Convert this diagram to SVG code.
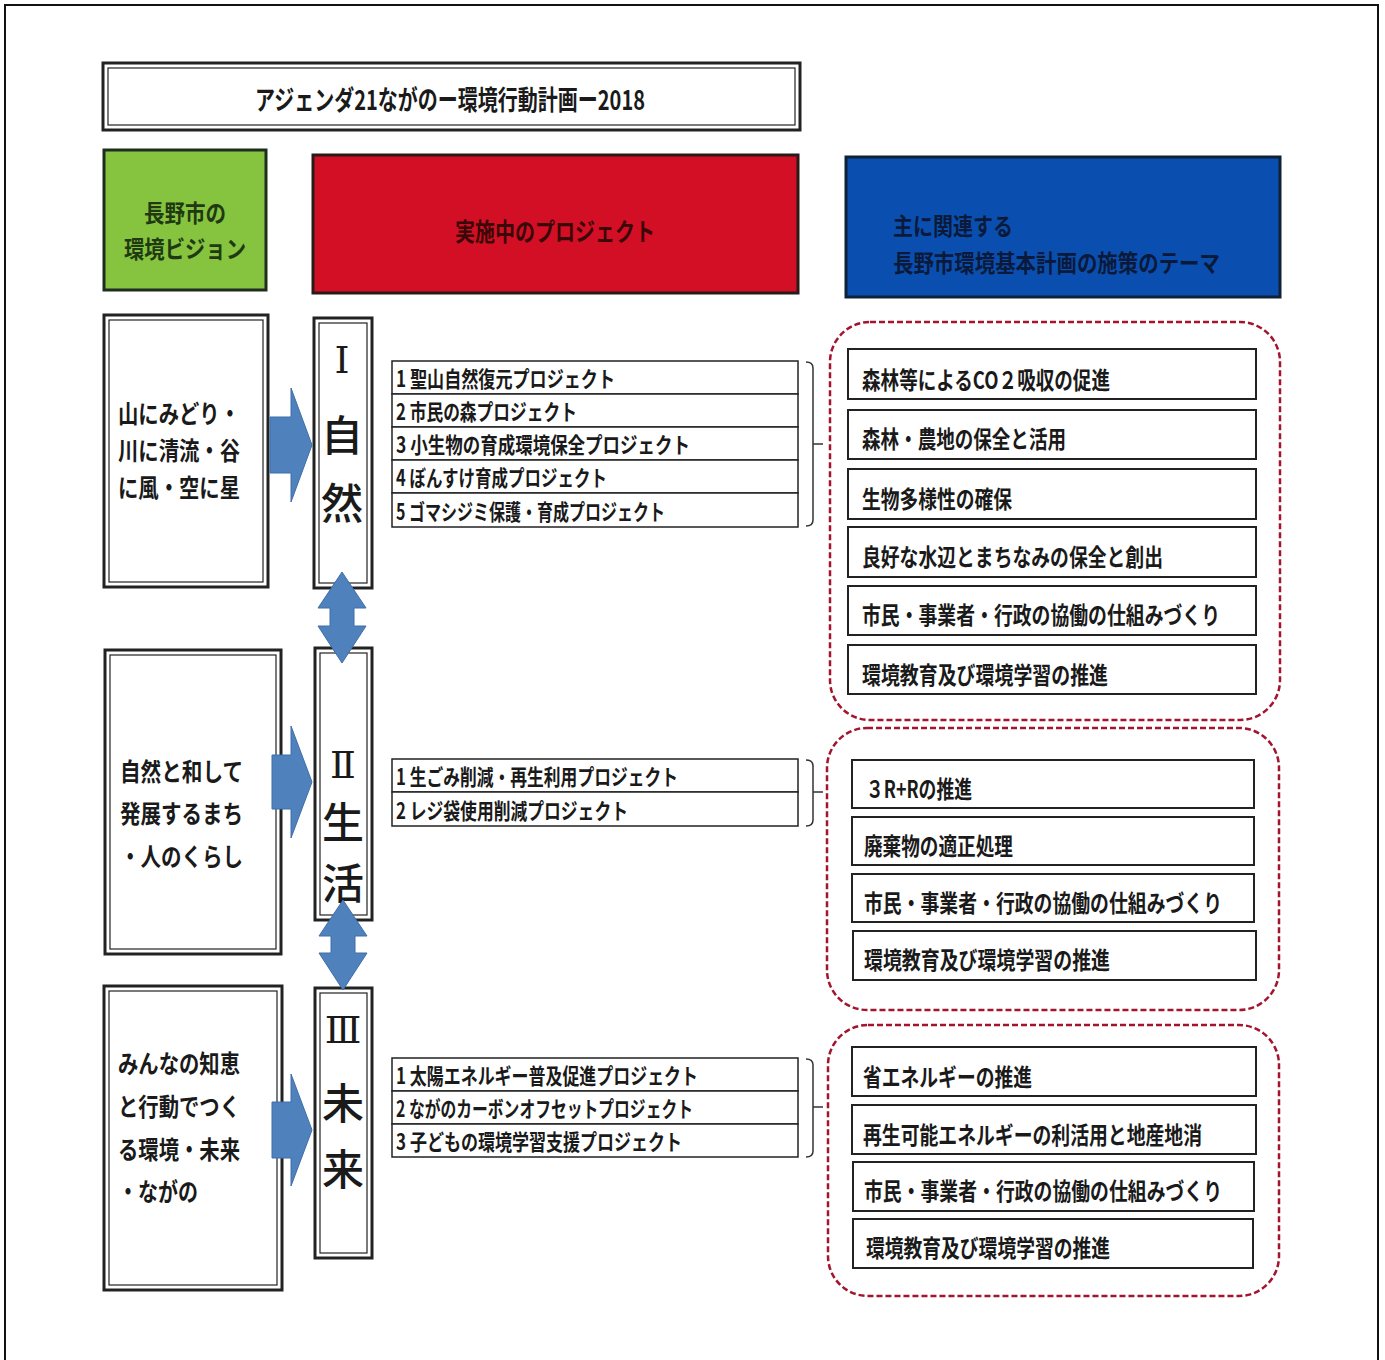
<svg xmlns="http://www.w3.org/2000/svg" width="1385" height="1360" viewBox="0 0 1385 1360">
<style>
text { font-family: "Noto Sans CJK JP", "Noto Sans", sans-serif; font-weight: bold; fill: #1a1a1a; dominant-baseline: central; }
.frame { fill: none; stroke: #111; stroke-width: 2; }
.dblo { fill: #fff; stroke: #222; stroke-width: 3; }
.dbli { fill: none; stroke: #222; stroke-width: 1.2; }
.theme { fill: #fff; stroke: #222; stroke-width: 2; }
.proj { fill: #fff; stroke: #222; stroke-width: 1.5; }
.grp { fill: none; stroke: #a3142e; stroke-width: 2.5; stroke-dasharray: 6 3; }
.arrow { fill: #4f81bd; stroke: #3d6ea8; stroke-width: 1; }
.brk { fill: none; stroke: #333; stroke-width: 1.5; }
.vis { font-size: 25px; }
.pj { font-size: 22px; }
.th { font-size: 24px; }
.big { font-size: 42px; font-weight: 500; text-anchor: middle; }
.rom { font-family: "DejaVu Serif", "Liberation Serif", serif; font-size: 38px; font-weight: normal; text-anchor: middle; }
</style>

<rect class="frame" x="5" y="5" width="1373" height="1365"/>

<g id="title">
  <rect class="dblo" x="103" y="63" width="697" height="67"/>
  <rect class="dbli" x="108" y="68" width="687" height="57"/>
  <text x="450" y="98" font-size="27" text-anchor="middle" textLength="390" lengthAdjust="spacingAndGlyphs">アジェンダ21ながのー環境行動計画ー2018</text>
</g>

<g id="head-vision">
  <rect x="104" y="150" width="162" height="140" fill="#86c440" stroke="#1e2e1e" stroke-width="3"/>
  <text x="185" y="211" font-size="24" text-anchor="middle" textLength="82" lengthAdjust="spacingAndGlyphs" style="fill:#1f3a12">長野市の</text>
  <text x="185" y="247" font-size="24" text-anchor="middle" textLength="122" lengthAdjust="spacingAndGlyphs" style="fill:#1f3a12">環境ビジョン</text>
</g>

<g id="head-projects">
  <rect x="313" y="155" width="485" height="138" fill="#d20f24" stroke="#2a1a1a" stroke-width="3"/>
  <text x="555" y="230" font-size="25" text-anchor="middle" textLength="200" lengthAdjust="spacingAndGlyphs" style="fill:#3a0808">実施中のプロジェクト</text>
</g>

<g id="head-themes">
  <rect x="846" y="157" width="434" height="140" fill="#0a4fb0" stroke="#0d2236" stroke-width="3"/>
  <text x="893" y="224" font-size="24" textLength="120" lengthAdjust="spacingAndGlyphs" style="fill:#0b1a3a">主に関連する</text>
  <text x="893" y="261" font-size="24" textLength="327" lengthAdjust="spacingAndGlyphs" style="fill:#0b1a3a">長野市環境基本計画の施策のテーマ</text>
</g>

<g id="vision-1">
  <rect class="dblo" x="104" y="315" width="164" height="272"/>
  <rect class="dbli" x="109" y="320" width="154" height="262"/>
  <text class="vis" x="118" y="412" textLength="122" lengthAdjust="spacingAndGlyphs">山にみどり・</text>
  <text class="vis" x="118" y="449" textLength="122" lengthAdjust="spacingAndGlyphs">川に清流・谷</text>
  <text class="vis" x="118" y="486" textLength="122" lengthAdjust="spacingAndGlyphs">に風・空に星</text>
</g>

<g id="vision-2">
  <rect class="dblo" x="105" y="650" width="176" height="304"/>
  <rect class="dbli" x="110" y="655" width="166" height="294"/>
  <text class="vis" x="120" y="770" textLength="123" lengthAdjust="spacingAndGlyphs">自然と和して</text>
  <text class="vis" x="120" y="812" textLength="123" lengthAdjust="spacingAndGlyphs">発展するまち</text>
  <text class="vis" x="120" y="855" textLength="123" lengthAdjust="spacingAndGlyphs">・人のくらし</text>
</g>

<g id="vision-3">
  <rect class="dblo" x="104" y="986" width="178" height="304"/>
  <rect class="dbli" x="109" y="991" width="168" height="294"/>
  <text class="vis" x="118" y="1062" textLength="122" lengthAdjust="spacingAndGlyphs">みんなの知恵</text>
  <text class="vis" x="118" y="1105" textLength="122" lengthAdjust="spacingAndGlyphs">と行動でつく</text>
  <text class="vis" x="118" y="1148" textLength="122" lengthAdjust="spacingAndGlyphs">る環境・未来</text>
  <text class="vis" x="118" y="1190" textLength="80" lengthAdjust="spacingAndGlyphs">・ながの</text>
</g>

<g id="pillar-1">
  <rect class="dblo" x="314" y="318" width="58" height="270"/>
  <rect class="dbli" x="319" y="323" width="48" height="260"/>
  <text class="rom" x="342" y="360">Ⅰ</text>
  <text class="big" x="342" y="432">自</text>
  <text class="big" x="342" y="500">然</text>
</g>

<g id="pillar-2">
  <rect class="dblo" x="315" y="648" width="57" height="272"/>
  <rect class="dbli" x="320" y="653" width="47" height="262"/>
  <text class="rom" x="343" y="765">Ⅱ</text>
  <text class="big" x="343" y="819">生</text>
  <text class="big" x="343" y="880">活</text>
</g>

<g id="pillar-3">
  <rect class="dblo" x="315" y="988" width="57" height="270"/>
  <rect class="dbli" x="320" y="993" width="47" height="260"/>
  <text class="rom" x="343" y="1030">Ⅲ</text>
  <text class="big" x="343" y="1100">未</text>
  <text class="big" x="343" y="1166">来</text>
</g>

<g id="projects-1">
  <rect class="proj" x="392" y="361" width="406" height="33"/>
  <rect class="proj" x="392" y="394" width="406" height="33"/>
  <rect class="proj" x="392" y="427" width="406" height="33"/>
  <rect class="proj" x="392" y="460" width="406" height="33"/>
  <rect class="proj" x="392" y="493" width="406" height="34"/>
  <text class="pj" x="396" y="377" textLength="219" lengthAdjust="spacingAndGlyphs">1 聖山自然復元プロジェクト</text>
  <text class="pj" x="396" y="410" textLength="181" lengthAdjust="spacingAndGlyphs">2 市民の森プロジェクト</text>
  <text class="pj" x="396" y="443" textLength="294" lengthAdjust="spacingAndGlyphs">3 小生物の育成環境保全プロジェクト</text>
  <text class="pj" x="396" y="476" textLength="211" lengthAdjust="spacingAndGlyphs">4 ぼんすけ育成プロジェクト</text>
  <text class="pj" x="396" y="510" textLength="269" lengthAdjust="spacingAndGlyphs">5 ゴマシジミ保護・育成プロジェクト</text>
</g>

<g id="projects-2">
  <rect class="proj" x="392" y="759" width="406" height="33"/>
  <rect class="proj" x="392" y="792" width="406" height="34"/>
  <text class="pj" x="396" y="775" textLength="282" lengthAdjust="spacingAndGlyphs">1 生ごみ削減・再生利用プロジェクト</text>
  <text class="pj" x="396" y="809" textLength="232" lengthAdjust="spacingAndGlyphs">2 レジ袋使用削減プロジェクト</text>
</g>

<g id="projects-3">
  <rect class="proj" x="392" y="1058" width="406" height="33"/>
  <rect class="proj" x="392" y="1091" width="406" height="33"/>
  <rect class="proj" x="392" y="1124" width="406" height="33"/>
  <text class="pj" x="396" y="1074" textLength="302" lengthAdjust="spacingAndGlyphs">1 太陽エネルギー普及促進プロジェクト</text>
  <text class="pj" x="396" y="1107" textLength="297" lengthAdjust="spacingAndGlyphs">2 ながのカーボンオフセットプロジェクト</text>
  <text class="pj" x="396" y="1140" textLength="286" lengthAdjust="spacingAndGlyphs">3 子どもの環境学習支援プロジェクト</text>
</g>

<g id="themes-1">
  <rect class="grp" x="830" y="322" width="450" height="398" rx="40" ry="40"/>
  <rect class="theme" x="848" y="349" width="408" height="50"/>
  <rect class="theme" x="848" y="410" width="408" height="49"/>
  <rect class="theme" x="848" y="469" width="408" height="50"/>
  <rect class="theme" x="848" y="527" width="408" height="50"/>
  <rect class="theme" x="848" y="586" width="408" height="49"/>
  <rect class="theme" x="848" y="645" width="408" height="49"/>
  <text class="th" x="862" y="378" textLength="248" lengthAdjust="spacingAndGlyphs">森林等によるCO２吸収の促進</text>
  <text class="th" x="862" y="437" textLength="204" lengthAdjust="spacingAndGlyphs">森林・農地の保全と活用</text>
  <text class="th" x="862" y="497" textLength="150" lengthAdjust="spacingAndGlyphs">生物多様性の確保</text>
  <text class="th" x="862" y="555" textLength="301" lengthAdjust="spacingAndGlyphs">良好な水辺とまちなみの保全と創出</text>
  <text class="th" x="862" y="613" textLength="358" lengthAdjust="spacingAndGlyphs">市民・事業者・行政の協働の仕組みづくり</text>
  <text class="th" x="862" y="673" textLength="246" lengthAdjust="spacingAndGlyphs">環境教育及び環境学習の推進</text>
</g>

<g id="themes-2">
  <rect class="grp" x="827" y="728" width="452" height="282" rx="40" ry="40"/>
  <rect class="theme" x="852" y="760" width="402" height="48"/>
  <rect class="theme" x="852" y="817" width="402" height="48"/>
  <rect class="theme" x="852" y="874" width="402" height="48"/>
  <rect class="theme" x="853" y="931" width="403" height="49"/>
  <text class="th" x="866" y="787" textLength="106" lengthAdjust="spacingAndGlyphs">３R+Rの推進</text>
  <text class="th" x="864" y="844" textLength="149" lengthAdjust="spacingAndGlyphs">廃棄物の適正処理</text>
  <text class="th" x="864" y="901" textLength="358" lengthAdjust="spacingAndGlyphs">市民・事業者・行政の協働の仕組みづくり</text>
  <text class="th" x="864" y="958" textLength="246" lengthAdjust="spacingAndGlyphs">環境教育及び環境学習の推進</text>
</g>

<g id="themes-3">
  <rect class="grp" x="828" y="1025" width="451" height="271" rx="40" ry="40"/>
  <rect class="theme" x="852" y="1047" width="404" height="49"/>
  <rect class="theme" x="852" y="1105" width="404" height="49"/>
  <rect class="theme" x="853" y="1162" width="401" height="49"/>
  <rect class="theme" x="853" y="1219" width="400" height="49"/>
  <text class="th" x="863" y="1075" textLength="169" lengthAdjust="spacingAndGlyphs">省エネルギーの推進</text>
  <text class="th" x="863" y="1133" textLength="339" lengthAdjust="spacingAndGlyphs">再生可能エネルギーの利活用と地産地消</text>
  <text class="th" x="864" y="1189" textLength="358" lengthAdjust="spacingAndGlyphs">市民・事業者・行政の協働の仕組みづくり</text>
  <text class="th" x="866" y="1246" textLength="244" lengthAdjust="spacingAndGlyphs">環境教育及び環境学習の推進</text>
</g>

<g id="connectors">
  <path class="arrow" d="M270,417 H291 V388 L312,445 L291,502 V473 H270 Z"/>
  <path class="arrow" d="M272,755 H291 V726 L312,782 L291,838 V809 H272 Z"/>
  <path class="arrow" d="M272,1102 H291 V1074 L312,1130 L291,1186 V1158 H272 Z"/>
  <path class="arrow" d="M342,572 L366,608 H354 V626 H366 L342,663 L318,626 H330 V608 H318 Z"/>
  <path class="arrow" d="M343,900 L367,936 H355 V953 H367 L343,990 L319,953 H331 V936 H319 Z"/>
  <path class="brk" d="M806,362 Q813,362 813,368 V520 Q813,526 806,526 M813,444 H823"/>
  <path class="brk" d="M806,760 Q813,760 813,766 V820 Q813,826 806,826 M813,792 H823"/>
  <path class="brk" d="M806,1059 Q813,1059 813,1065 V1151 Q813,1157 806,1157 M813,1107 H823"/>
</g>
</svg>
